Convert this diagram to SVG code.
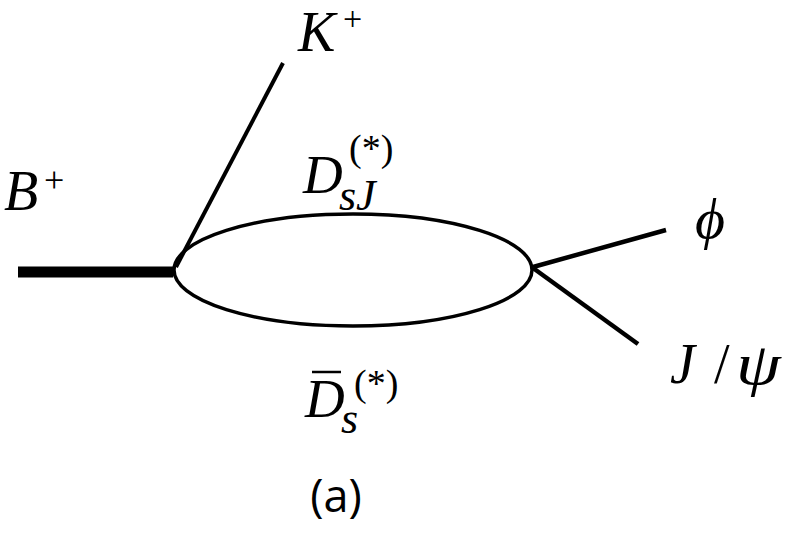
<svg xmlns="http://www.w3.org/2000/svg" width="788" height="534" viewBox="0 0 788 534">
<style>
.ln{stroke:#000;fill:none;stroke-linecap:butt}
.m{font-family:"Liberation Serif","Times New Roman",serif;font-style:italic;fill:#000}
.u{font-family:"Liberation Serif","Times New Roman",serif;font-style:normal;fill:#000}
.cap{font-family:"Open Sans","Liberation Sans",sans-serif;fill:#000}
</style>
<rect width="788" height="534" fill="#fff"/>
<g id="connectors">
<line class="ln" x1="18" y1="272" x2="173" y2="272" stroke-width="11"/>
<line class="ln" x1="176" y1="267" x2="283" y2="63" stroke-width="4"/>
<line class="ln" x1="533" y1="267" x2="666" y2="230" stroke-width="4.5"/>
<line class="ln" x1="533" y1="268" x2="638" y2="344" stroke-width="4.5"/>
</g>
<g id="loop">
<ellipse class="ln" cx="353" cy="270" rx="179" ry="56" stroke-width="3.5"/>
</g>
<g id="B">
<text class="m" x="4" y="210" font-size="56">B</text>
<text class="u" x="44" y="192" font-size="36">+</text>
</g>
<g id="K">
<text class="m" x="298" y="51" font-size="56">K</text>
<text class="u" x="343" y="30" font-size="34">+</text>
</g>
<g id="DsJ">
<text class="m" x="303" y="193" font-size="55">D</text>
<text class="m" x="339" y="210" font-size="44">sJ</text>
<text class="u" x="349" y="161" font-size="38">(*)</text>
</g>
<g id="Dsbar">
<line class="ln" x1="312" y1="372" x2="341" y2="372" stroke-width="2.5"/>
<text class="m" x="305" y="417" font-size="55">D</text>
<text class="m" x="341" y="433" font-size="44">s</text>
<text class="u" x="354" y="396" font-size="38">(*)</text>
</g>
<g id="phi">
<text class="m" x="695" y="238" font-size="58">ϕ</text>
</g>
<g id="Jpsi">
<text class="m" x="670" y="383" font-size="56">J</text>
<text class="u" x="714" y="383" font-size="56">/</text>
<text class="m" transform="translate(736,384) scale(1.2,1)" font-size="60">ψ</text>
</g>
<g id="caption">
<text class="cap" x="336" y="512" font-size="45" text-anchor="middle">(a)</text>
</g>
</svg>
